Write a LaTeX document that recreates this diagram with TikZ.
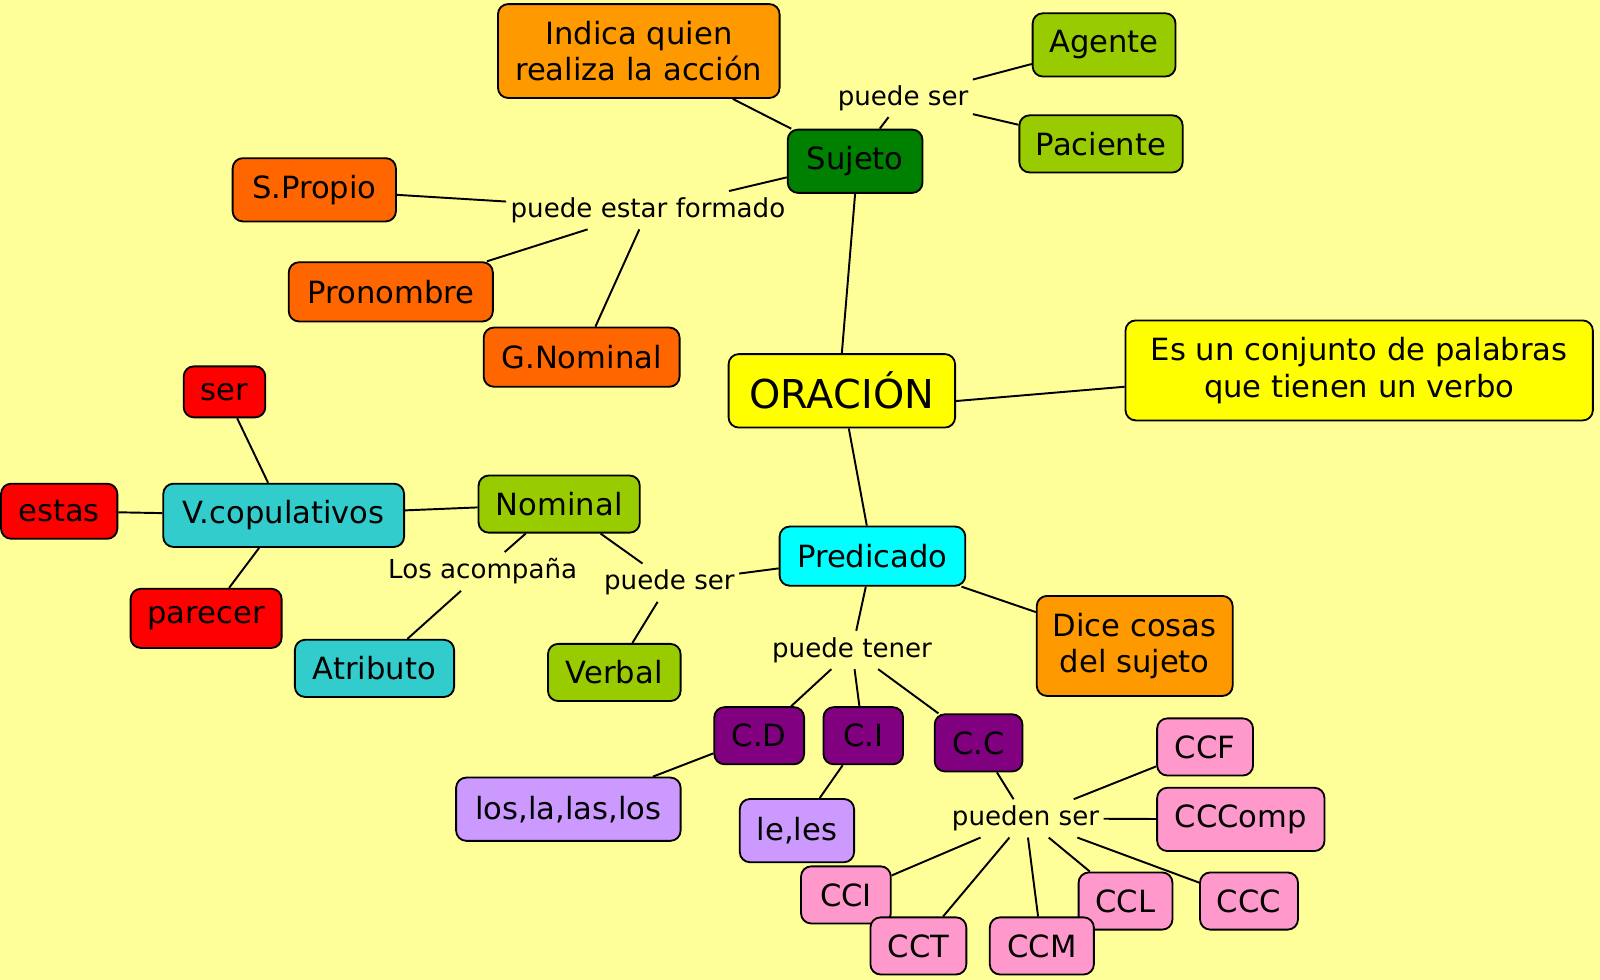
\documentclass[tikz,border=0pt]{standalone}
\usepackage{fontspec}
\setmainfont{DejaVu Sans}
\usepackage{tikz}

\definecolor{mapbg}{HTML}{FFFF99}
\definecolor{cOrange}{HTML}{FF9900}
\definecolor{cRust}{HTML}{FF6600}
\definecolor{cGreen}{HTML}{008000}
\definecolor{cLime}{HTML}{99CC00}
\definecolor{cYellow}{HTML}{FFFF00}
\definecolor{cCyan}{HTML}{00FFFF}
\definecolor{cPurple}{HTML}{800080}
\definecolor{cLilac}{HTML}{CC99FF}
\definecolor{cPink}{HTML}{FF99CC}
\definecolor{cTeal}{HTML}{33CCCC}
\definecolor{cRed}{HTML}{FF0000}

\begin{document}
\begin{tikzpicture}[x=0.5pt,y=-0.5pt,
  concept/.style={draw,line width=0.9pt,rounded corners=5pt,align=center,
    inner sep=3pt,minimum height=29pt,font=\fontsize{15}{18}\selectfont},
  rel/.style={inner xsep=2pt,inner ysep=3pt,font=\fontsize{12.8}{15}\selectfont},
  link/.style={line width=0.95pt}]
  \useasboundingbox (0,0) rectangle (1568,960);
  \fill[mapbg] (0,0) rectangle (1568,960);

  \node[concept,fill=cOrange,minimum width=138pt,minimum height=46pt] (indica) at (626,50) {Indica quien\\realiza la acción};
  \node[concept,fill=cGreen,minimum width=66pt,minimum height=31pt] (sujeto) at (838,158) {Sujeto};
  \node[concept,fill=cLime,minimum width=70pt,minimum height=31pt] (agente) at (1082,44) {Agente};
  \node[concept,fill=cLime,minimum width=80pt,minimum height=28pt] (paciente) at (1079,141) {Paciente};
  \node[rel] (ps1) at (885,96) {puede ser};

  \node[concept,fill=cRust,minimum width=80pt,minimum height=31pt] (spropio) at (308,186) {S.Propio};
  \node[concept,fill=cRust,minimum width=100pt] (pronombre) at (383,286) {Pronombre};
  \node[concept,fill=cRust,minimum width=96pt] (gnominal) at (570,350) {G.Nominal};
  \node[rel] (pef) at (635,206) {puede estar formado};

  \node[concept,fill=cYellow,minimum width=111pt,minimum height=36pt,font=\fontsize{19.5}{23}\selectfont] (oracion) at (825,383) {ORACIÓN};
  \node[concept,fill=cYellow,minimum width=229pt,minimum height=49pt] (defin) at (1332,363) {Es un conjunto de palabras\\que tienen un verbo};

  \node[concept,fill=cCyan,minimum width=91pt] (predicado) at (855,545) {Predicado};
  \node[concept,fill=cOrange,minimum width=96pt,minimum height=49pt] (dice) at (1112,633) {Dice cosas\\del sujeto};
  \node[rel] (ptener) at (835,637) {puede tener};

  \node[concept,fill=cPurple,minimum width=44pt,minimum height=28pt] (cd) at (744,721) {C.D};
  \node[concept,fill=cPurple,minimum width=39pt,minimum height=28pt] (ci) at (846,721) {C.I};
  \node[concept,fill=cPurple,minimum width=43pt,minimum height=28pt] (cc) at (959,728) {C.C};
  \node[concept,fill=cLilac,minimum width=110pt,minimum height=31pt] (los) at (557,793) {los,la,las,los};
  \node[concept,fill=cLilac,minimum width=56pt,minimum height=31pt] (le) at (781,814) {le,les};
  \node[rel] (pueden) at (1005,802) {pueden ser};

  \node[concept,fill=cPink,minimum width=47pt,minimum height=28pt] (ccf) at (1181,732) {CCF};
  \node[concept,fill=cPink,minimum width=82pt,minimum height=31pt] (cccomp) at (1216,803) {CCComp};
  \node[concept,fill=cPink,minimum width=44pt,minimum height=28pt] (cci) at (829,877) {CCI};
  \node[concept,fill=cPink,minimum width=47pt,minimum height=28pt] (cct) at (900,927) {CCT};
  \node[concept,fill=cPink,minimum width=46pt,minimum height=28pt] (ccl) at (1103,883) {CCL};
  \node[concept,fill=cPink,minimum width=51pt,minimum height=28pt] (ccm) at (1021,927) {CCM};
  \node[concept,fill=cPink,minimum width=48pt,minimum height=28pt] (ccc) at (1224,883) {CCC};

  \node[concept,fill=cTeal,minimum width=118pt,minimum height=31pt] (vcop) at (278,505) {V.copulativos};
  \node[concept,fill=cRed,minimum width=40pt,minimum height=25pt] (ser) at (220,384) {ser};
  \node[concept,fill=cRed,minimum width=57pt,minimum height=27pt] (estas) at (58,501) {estas};
  \node[concept,fill=cRed,minimum width=74pt] (parecer) at (202,606) {parecer};
  \node[concept,fill=cLime,minimum width=79pt,minimum height=28pt] (nominal) at (548,494) {Nominal};
  \node[concept,fill=cTeal,minimum width=78pt,minimum height=28pt] (atributo) at (367,655) {Atributo};
  \node[concept,fill=cLime,minimum width=65pt,minimum height=28pt] (verbal) at (602,659) {Verbal};
  \node[rel] (acomp) at (473,560) {Los acompaña};
  \node[rel] (ps2) at (656,571) {puede ser};

  \draw[link] (indica) -- (sujeto);
  \draw[link] (sujeto) -- (ps1);
  \draw[link] (ps1) -- (agente);
  \draw[link] (ps1) -- (paciente);
  \draw[link] (sujeto) -- (pef);
  \draw[link] (pef) -- (spropio);
  \draw[link] (pef) -- (pronombre);
  \draw[link] (pef) -- (gnominal);
  \draw[link] (sujeto.south) -- (oracion.north);
  \draw[link] ([yshift=-5pt]oracion.east) -- ([yshift=-8pt]defin.west);
  \draw[link] (oracion) -- (predicado);
  \draw[link] (predicado) -- (dice);
  \draw[link] (predicado) -- (ps2);
  \draw[link] (ps2) -- (nominal);
  \draw[link] (ps2) -- (verbal);
  \draw[link] (nominal) -- (vcop);
  \draw[link] (vcop) -- (ser);
  \draw[link] (vcop) -- (estas);
  \draw[link] (vcop) -- (parecer);
  \draw[link] (nominal) -- (acomp);
  \draw[link] (acomp) -- (atributo);
  \draw[link] (predicado) -- (ptener);
  \draw[link] (ptener) -- (cd);
  \draw[link] (ptener) -- (ci);
  \draw[link] (ptener) -- (cc);
  \draw[link] (cd) -- (los);
  \draw[link] (ci) -- (le);
  \draw[link] (cc) -- (pueden);
  \draw[link] (pueden) -- (ccf);
  \draw[link] (pueden) -- (cccomp);
  \draw[link] (pueden) -- (cci);
  \draw[link] (pueden) -- (cct);
  \draw[link] (pueden) -- (ccm);
  \draw[link] (pueden) -- (ccl);
  \draw[link] (pueden) -- (ccc);
\end{tikzpicture}
\end{document}
